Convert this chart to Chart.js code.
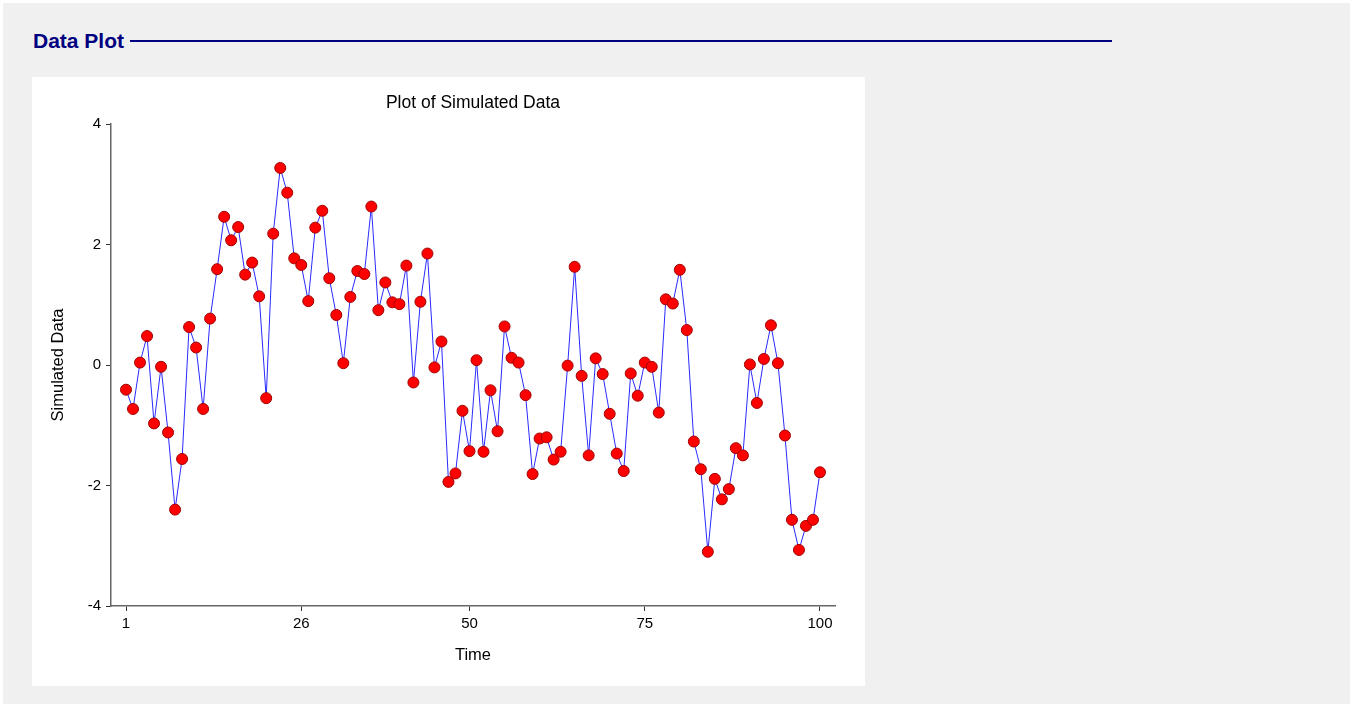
<!DOCTYPE html>
<html>
<head>
<meta charset="utf-8">
<script src="https://cdn.jsdelivr.net/npm/chart.js@4/dist/chart.umd.min.js"></script>
<style>
  html, body { margin: 0; padding: 0; background: #ffffff; }
  body { width: 1354px; height: 707px; position: relative; overflow: hidden; font-family: "Liberation Sans", Arial, sans-serif; }
  #frame { position: absolute; left: 3px; top: 3px; width: 1347px; height: 701px; background: #f0f0f0; }
  #heading { position: absolute; left: 33px; top: 28px; font-size: 21px; font-weight: bold; color: #000080; line-height: 26px; white-space: nowrap; }
  #rule { position: absolute; left: 130px; top: 40px; width: 982px; height: 2px; background: #000080; }
  #panel { position: absolute; left: 32px; top: 77px; width: 833px; height: 609px; background: #ffffff; }
  #chart { display: block; }
</style>
</head>
<body>
<div id="frame"></div>
<div id="heading">Data Plot</div>
<div id="rule"></div>
<div id="panel"><canvas id="chart" width="833" height="609"></canvas></div>
<script>
// Simulated series, one value per time step
const simulatedData = [
  -0.41, -0.73, 0.04, 0.48, -0.97, -0.03, -1.12, -2.40, -1.56, 0.63,
  0.29, -0.73, 0.77, 1.59, 2.46, 2.07, 2.29, 1.50, 1.70, 1.14,
  -0.55, 2.18, 3.27, 2.86, 1.77, 1.66, 1.06, 2.28, 2.56, 1.44,
  0.83, 0.03, 1.13, 1.56, 1.51, 2.63, 0.91, 1.37, 1.04, 1.01,
  1.65, -0.29, 1.05, 1.85, -0.04, 0.39, -1.94, -1.80, -0.76, -1.43,
  0.08, -1.44, -0.42, -1.10, 0.64, 0.12, 0.04, -0.50, -1.81, -1.22,
  -1.20, -1.57, -1.44, -0.01, 1.63, -0.18, -1.50, 0.11, -0.15, -0.81,
  -1.47, -1.76, -0.14, -0.51, 0.04, -0.03, -0.79, 1.09, 1.02, 1.58,
  0.58, -1.27, -1.73, -3.10, -1.89, -2.23, -2.06, -1.38, -1.50, 0.01,
  -0.63, 0.10, 0.66, 0.03, -1.17, -2.57, -3.07, -2.67, -2.57, -1.78
];
const timeTicks = [1, 26, 50, 75, 100];
const valueTicks = [-4, -2, 0, 2, 4];

const points = simulatedData.map((v, i) => ({ x: i + 1, y: v }));

const FONT = "'Liberation Sans', Arial, sans-serif";

new Chart(document.getElementById('chart'), {
  type: 'line',
  data: {
    datasets: [{
      data: points,
      borderColor: '#2a2aff',
      borderWidth: 1,
      tension: 0,
      pointRadius: 5.5,
      pointHoverRadius: 5.5,
      pointBackgroundColor: '#ff0000',
      pointBorderColor: '#a00000',
      pointBorderWidth: 1,
      clip: false
    }]
  },
  options: {
    responsive: false,
    animation: false,
    devicePixelRatio: 1,
    layout: { padding: { left: 0, right: 30, top: 0, bottom: 0 } },
    plugins: {
      legend: { display: false },
      tooltip: { enabled: false },
      title: {
        display: true,
        fullSize: false,
        text: 'Plot of Simulated Data',
        color: '#000000',
        font: { family: FONT, size: 17.5, weight: 'normal', lineHeight: 1.2 },
        padding: { top: 15.5, bottom: 10.5 }
      }
    },
    scales: {
      x: {
        type: 'linear',
        min: -1.14,
        max: 102.14,
        afterBuildTicks: (scale) => { scale.ticks = timeTicks.map(v => ({ value: v })); },
        afterFit: (scale) => { scale.height = 80; },
        grid: { drawOnChartArea: false, drawTicks: true, tickLength: 5, color: '#333333' },
        border: { display: true, color: '#666666', width: 1.5 },
        ticks: { color: '#000000', font: { family: FONT, size: 15 }, padding: 4, maxRotation: 0, autoSkip: false },
        title: { display: true, text: 'Time', color: '#000000', font: { family: FONT, size: 16.5 }, padding: { top: 0, bottom: 21 } }
      },
      y: {
        type: 'linear',
        min: -4,
        max: 4,
        afterBuildTicks: (scale) => { scale.ticks = valueTicks.map(v => ({ value: v })); },
        afterFit: (scale) => { scale.width = 79; },
        grid: { drawOnChartArea: false, drawTicks: true, tickLength: 5, color: '#333333' },
        border: { display: true, color: '#666666', width: 1.5 },
        ticks: { color: '#000000', font: { family: FONT, size: 15 }, padding: 5 },
        title: { display: true, text: 'Simulated Data', color: '#000000', font: { family: FONT, size: 16.5 }, padding: { top: 17, bottom: 0 } }
      }
    }
  }
});
</script>
</body>
</html>
